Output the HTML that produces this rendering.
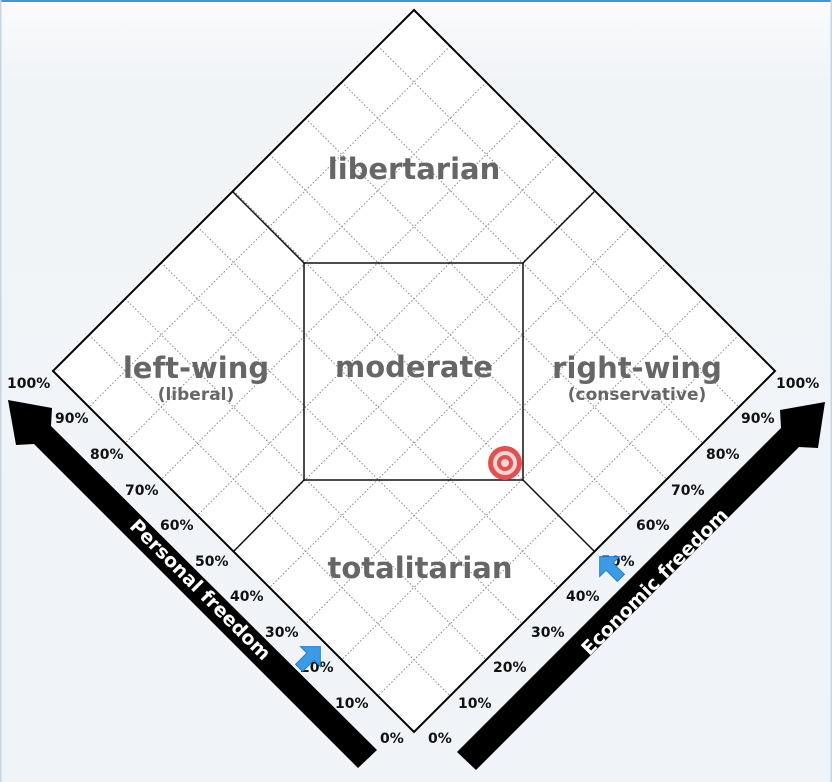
<!DOCTYPE html>
<html><head><meta charset="utf-8"><style>
html,body{margin:0;padding:0;width:832px;height:782px;overflow:hidden}
body{background:linear-gradient(#fafbfd 0px,#f1f4f7 80px,#f0f4f8 782px);}
svg{position:absolute;left:0;top:0}
.t{font-family:"DejaVu Sans",sans-serif;font-weight:bold;fill:#666}
.p text{font-family:"DejaVu Sans",sans-serif;font-weight:bold;font-size:14px;fill:#111}
</style></head><body>
<svg width="832" height="782" viewBox="0 0 832 782">
<rect x="0" y="0" width="832" height="2" fill="#3a9ad9"/>
<rect x="0" y="0" width="1.5" height="782" fill="#c8d4df"/>
<rect x="830.5" y="0" width="1.5" height="782" fill="#c8d4df"/>
<polygon points="414,10 775,371 414,732 53,371" fill="#fff"/>
<g transform="translate(414,10) rotate(45)" stroke="#888" stroke-width="1" stroke-dasharray="1.5,2">
<line x1="51" y1="0" x2="51" y2="510.5"/><line x1="102.1" y1="0" x2="102.1" y2="510.5"/><line x1="153.2" y1="0" x2="153.2" y2="510.5"/><line x1="204.2" y1="0" x2="204.2" y2="510.5"/><line x1="255.3" y1="0" x2="255.3" y2="510.5"/><line x1="306.3" y1="0" x2="306.3" y2="510.5"/><line x1="357.4" y1="0" x2="357.4" y2="510.5"/><line x1="408.4" y1="0" x2="408.4" y2="510.5"/><line x1="459.5" y1="0" x2="459.5" y2="510.5"/>
<line y1="51" x1="0" y2="51" x2="510.5"/><line y1="102.1" x1="0" y2="102.1" x2="510.5"/><line y1="153.2" x1="0" y2="153.2" x2="510.5"/><line y1="204.2" x1="0" y2="204.2" x2="510.5"/><line y1="255.3" x1="0" y2="255.3" x2="510.5"/><line y1="306.3" x1="0" y2="306.3" x2="510.5"/><line y1="357.4" x1="0" y2="357.4" x2="510.5"/><line y1="408.4" x1="0" y2="408.4" x2="510.5"/><line y1="459.5" x1="0" y2="459.5" x2="510.5"/>
</g>
<g stroke="#111" stroke-width="1.5" fill="none">
<rect x="304" y="263" width="219" height="217"/>
<line x1="304" y1="263" x2="233" y2="192"/><line x1="523" y1="263" x2="594" y2="192"/>
<line x1="304" y1="480" x2="234" y2="551"/><line x1="523" y1="480" x2="594" y2="551"/>
</g>
<polygon points="414,10 775,371 414,732 53,371" fill="none" stroke="#000" stroke-width="2"/>
<text class="t" x="414" y="179" font-size="29" text-anchor="middle">libertarian</text>
<text class="t" x="414" y="377" font-size="29" text-anchor="middle">moderate</text>
<text class="t" x="196" y="378" font-size="29" text-anchor="middle">left-wing</text>
<text class="t" x="196" y="400" font-size="17" text-anchor="middle">(liberal)</text>
<text class="t" x="637" y="378" font-size="29" text-anchor="middle">right-wing</text>
<text class="t" x="637" y="400" font-size="17" text-anchor="middle">(conservative)</text>
<text class="t" x="420" y="578" font-size="29" text-anchor="middle">totalitarian</text>
<!-- target -->
<circle cx="505" cy="463" r="17" fill="#e45050"/>
<circle cx="505" cy="463" r="12" fill="#f7d6d6"/>
<circle cx="505" cy="463" r="8" fill="#e45050"/>
<circle cx="505" cy="463" r="4" fill="#f7d6d6"/>
<!-- arrows -->
<polygon points="377,750 358,768 34,444 16,445 8,400 52,408 51,426" fill="#000"/>
<polygon points="457,752 476,770 799,447 818,448 825,402 780,410 781,428" fill="#000"/>
<text x="0" y="0" transform="translate(200,590) rotate(45)" text-anchor="middle" dominant-baseline="central" font-family="DejaVu Sans,sans-serif" font-weight="bold" font-size="19" fill="#fff">Personal freedom</text>
<text x="0" y="0" transform="translate(655,582) rotate(-45)" text-anchor="middle" dominant-baseline="central" font-family="DejaVu Sans,sans-serif" font-weight="bold" font-size="19" fill="#fff">Economic freedom</text>
<g class="p">
<text x="7" y="388">100%</text><text x="55" y="423">90%</text><text x="90" y="459">80%</text><text x="125" y="495">70%</text><text x="160" y="530">60%</text><text x="195" y="566">50%</text><text x="230" y="601">40%</text><text x="265" y="637">30%</text><text x="300" y="672">20%</text><text x="335" y="708">10%</text><text x="380" y="743">0%</text>
<text x="428" y="743">0%</text><text x="458" y="708">10%</text><text x="493" y="672">20%</text><text x="531" y="637">30%</text><text x="566" y="601">40%</text><text x="601" y="566">50%</text><text x="636" y="530">60%</text><text x="671" y="495">70%</text><text x="706" y="459">80%</text><text x="741" y="423">90%</text><text x="776" y="388">100%</text>
</g>
<!-- blue arrows -->
<g transform="translate(309,658) rotate(45)"><polygon points="0,-16 14,-2 5,-2 5,14 -5,14 -5,-2 -14,-2" fill="#3d9be6" stroke="#1f7fcc" stroke-width="1"/></g>
<g transform="translate(611,568) rotate(-45)"><polygon points="0,-16 14,-2 5,-2 5,14 -5,14 -5,-2 -14,-2" fill="#3d9be6" stroke="#1f7fcc" stroke-width="1"/></g>
</svg>
</body></html>
